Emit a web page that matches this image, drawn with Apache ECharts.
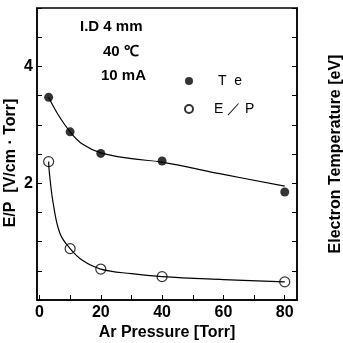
<!DOCTYPE html>
<html>
<head>
<meta charset="utf-8">
<script src="https://cdn.jsdelivr.net/npm/echarts@6/dist/echarts.min.js"></script>
<style>
  html, body { margin: 0; padding: 0; background: #fff; }
  #chart { width: 343px; height: 343px; }
</style>
</head>
<body>
<div id="chart"></div>
<script>
// measured points
var pressure = [3, 10, 20, 40, 80];
var teValues = [3.47, 2.88, 2.51, 2.38, 1.85];
var epValues = [2.37, 0.88, 0.53, 0.40, 0.31];

// fitted curves
var teCurveX = [3, 6, 10, 14, 20, 30, 40, 60, 80];
var teCurveY = [3.47, 3.18, 2.88, 2.67, 2.52, 2.42, 2.36, 2.15, 1.95];
var epCurveX = [3, 3.2, 4.5, 6.7, 10, 14, 20, 30, 40, 60, 80];
var epCurveY = [2.37, 2.2, 1.65, 1.14, 0.88, 0.68, 0.53, 0.45, 0.40, 0.35, 0.31];

var xTicks = [0, 10, 20, 30, 40, 50, 60, 70, 80];
var xLabels = [0, 20, 40, 60, 80];
var yLabels = [2, 4];

function zip(a, b) {
    return a.map(function (v, i) { return [v, b[i]]; });
}

var font = 'Liberation Sans, Arial, sans-serif';
var chart = echarts.init(document.getElementById('chart'));

chart.setOption({
    animation: false,
    grid: {
        left: 37, right: 46, top: 8, bottom: 43,
        outerBoundsMode: 'none',
        show: true, borderColor: '#000', borderWidth: 1.5
    },
    legend: {
        data: [
            { name: 'Te', textStyle: { padding: [0, 0, 0, 20] } },
            { name: 'E/P', textStyle: { padding: [0, 0, 0, 16] } }
        ],
        orient: 'vertical',
        left: 179, top: 69,
        itemGap: 14,
        itemWidth: 8, itemHeight: 8,
        formatter: function (n) { return n === 'Te' ? 'T  e' : 'E ／ P'; },
        textStyle: { fontFamily: font, fontSize: 14, color: '#000' }
    },
    graphic: [
        { type: 'text', x: 80, y: 27, style: { text: 'I.D 4 mm', font: 'bold 15px ' + font, fill: '#000', verticalAlign: 'middle' } },
        { type: 'text', x: 103, y: 52, style: { text: '40 ℃', font: 'bold 15px ' + font, fill: '#000', verticalAlign: 'middle' } },
        { type: 'text', x: 101, y: 76, style: { text: '10 mA', font: 'bold 15px ' + font, fill: '#000', verticalAlign: 'middle' } }
    ],
    xAxis: {
        type: 'value',
        min: -0.8, max: 84,
        name: 'Ar Pressure [Torr]',
        nameLocation: 'middle',
        nameGap: 25,
        nameMoveOverlap: false,
        nameTextStyle: { fontFamily: font, fontWeight: 'bold', fontSize: 16, color: '#000' },
        axisLine: { onZero: false, lineStyle: { color: '#000', width: 1.5 } },
        axisTick: { inside: true, length: 5, customValues: xTicks, lineStyle: { color: '#000' } },
        axisLabel: { customValues: xLabels, margin: 5, fontFamily: font, fontWeight: 'bold', fontSize: 16, color: '#000' },
        splitLine: { show: false }
    },
    yAxis: [{
        type: 'value',
        min: 0, max: 5, interval: 0.5,
        name: 'E/P  [V/cm · Torr]',
        nameLocation: 'middle',
        nameGap: 18,
        nameMoveOverlap: false,
        nameTextStyle: { fontFamily: font, fontWeight: 'bold', fontSize: 16, color: '#000', padding: [0, 18, 0, 0] },
        axisLine: { onZero: false, lineStyle: { color: '#000', width: 1.5 } },
        axisTick: { inside: true, length: 5, lineStyle: { color: '#000' } },
        axisLabel: {
            margin: 4, fontFamily: font, fontWeight: 'bold', fontSize: 16, color: '#000',
            formatter: function (v) { return yLabels.indexOf(v) >= 0 ? String(v) : ''; }
        },
        splitLine: { show: false }
    }, {
        type: 'value',
        position: 'right',
        min: 0, max: 5, interval: 0.5,
        name: 'Electron Temperature [eV]',
        nameLocation: 'middle',
        nameGap: 31,
        nameRotate: 90,
        nameMoveOverlap: false,
        nameTextStyle: { fontFamily: font, fontWeight: 'bold', fontSize: 16, color: '#000' },
        axisLine: { onZero: false, lineStyle: { color: '#000', width: 1.5 } },
        axisTick: { inside: true, length: 5, lineStyle: { color: '#000' } },
        axisLabel: { show: false },
        splitLine: { show: false }
    }],
    series: [
        {
            type: 'line', data: zip(teCurveX, teCurveY), smooth: 0.4,
            showSymbol: false, silent: true,
            lineStyle: { color: '#000', width: 1.2 }
        },
        {
            type: 'line', data: zip(epCurveX, epCurveY), smooth: 0.4,
            showSymbol: false, silent: true,
            lineStyle: { color: '#000', width: 1.2 }
        },
        {
            name: 'Te', type: 'scatter', data: zip(pressure, teValues),
            symbol: 'circle', symbolSize: 9,
            itemStyle: { color: '#000' }
        },
        {
            name: 'E/P', type: 'scatter', data: zip(pressure, epValues),
            symbol: 'circle', symbolSize: 10,
            itemStyle: { color: '#fff', borderColor: '#000', borderWidth: 1.2 }
        }
    ]
});
</script>
</body>
</html>
